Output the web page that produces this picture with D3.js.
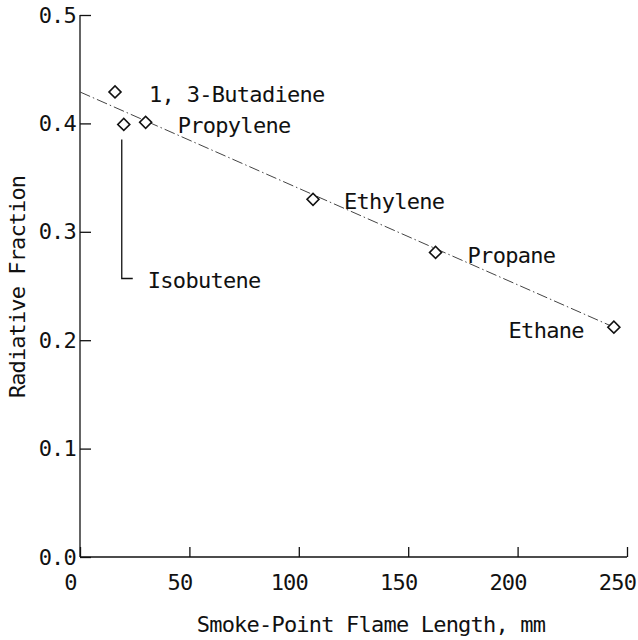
<!DOCTYPE html>
<html>
<head>
<meta charset="utf-8">
<script src="https://cdn.jsdelivr.net/npm/d3@7"></script>
<style>
  body { margin: 0; background: #fff; }
  text { font-family: "DejaVu Sans Mono", monospace; fill: #111; }
  .axis path, .axis line { stroke: #111; stroke-width: 1.3; }
</style>
</head>
<body>
<div id="chart"></div>
<script>
// data
var fuels = ["1, 3-Butadiene", "Isobutene", "Propylene", "Ethylene", "Propane", "Ethane"];
var flameLength = [16, 20, 30, 106.5, 162.5, 244];
var radFraction = [0.429, 0.399, 0.401, 0.330, 0.281, 0.212];
var fitX = [0, 244];
var fitY = [0.429, 0.212];
var xTicks = [0, 50, 100, 150, 200, 250];
var yTicks = [0, 0.1, 0.2, 0.3, 0.4, 0.5];

// label offsets in px from each point (dx, dy, anchor)
var labelPos = [
	[34, 10, "start"],
	[24, 164, "start"],
	[32, 11, "start"],
	[31, 10, "start"],
	[32, 11, "start"],
	[-30, 11, "end"]
];

var W = 638, H = 640;
var svg = d3.select("#chart").append("svg")
	.attr("width", W)
	.attr("height", H);

var x = d3.scaleLinear().domain([0, 250]).range([80, 627]);
var y = d3.scaleLinear().domain([0, 0.5]).range([557, 15]);

// y axis, ticks pointing inside
var yAxis = svg.append("g")
	.attr("class", "axis")
	.attr("transform", "translate(" + x(0) + ",0)")
	.call(d3.axisLeft(y).tickValues(yTicks).tickFormat(d3.format(".1f"))
		.tickSizeInner(-11).tickSizeOuter(0).tickPadding(4));
yAxis.selectAll("text").style("font-size", "22px").attr("letter-spacing", "-0.8");

// x axis
var xAxis = svg.append("g")
	.attr("class", "axis")
	.attr("transform", "translate(0," + y(0) + ")")
	.call(d3.axisBottom(x).tickValues(xTicks).tickFormat(d3.format("d"))
		.tickSizeInner(-10).tickSizeOuter(0).tickPadding(17));
xAxis.selectAll("text").style("font-size", "22px").attr("letter-spacing", "-0.8").attr("dx", -10);
xAxis.select(".domain").remove();
yAxis.select(".domain").remove();
svg.append("line").attr("x1", x(0)).attr("x2", x(250)).attr("y1", y(0)).attr("y2", y(0))
	.attr("stroke", "#111").attr("stroke-width", 1.3);
svg.append("line").attr("x1", x(0)).attr("x2", x(0)).attr("y1", y(0)).attr("y2", y(0.5))
	.attr("stroke", "#111").attr("stroke-width", 1.3);

// dash-dot fit line
var line = d3.line().x(function(d) { return x(d[0]); }).y(function(d) { return y(d[1]); });
svg.append("path")
	.datum(d3.zip(fitX, fitY))
	.attr("d", line)
	.attr("fill", "none")
	.attr("stroke", "#444")
	.attr("stroke-width", 1)
	.attr("stroke-dasharray", "11,3,1.5,3");

// diamonds
var pts = d3.range(fuels.length).map(function(i) {
	return {name: fuels[i], fx: flameLength[i], fy: radFraction[i], lab: labelPos[i]};
});
var sym = d3.symbol().type(d3.symbolSquare).size(72);
svg.selectAll(".pt")
	.data(pts)
	.enter().append("path")
	.attr("class", "pt")
	.attr("d", sym)
	.attr("transform", function(d) { return "translate(" + x(d.fx) + "," + y(d.fy) + ") rotate(45)"; })
	.attr("fill", "#fff")
	.attr("stroke", "#111")
	.attr("stroke-width", 1.6);

// labels
svg.selectAll(".lab")
	.data(pts)
	.enter().append("text")
	.attr("class", "lab")
	.attr("x", function(d) { return x(d.fx) + d.lab[0]; })
	.attr("y", function(d) { return y(d.fy) + d.lab[1]; })
	.attr("text-anchor", function(d) { return d.lab[2]; })
	.attr("letter-spacing", "-0.7")
	.style("font-size", "22px")
	.text(function(d) { return d.name; });

// leader for Isobutene
var iso = pts[1];
var ix = x(iso.fx), iy = y(iso.fy);
svg.append("path")
	.attr("d", "M" + (ix - 2) + "," + (iy + 15) + "V" + (iy + 154) + "H" + (ix + 9))
	.attr("fill", "none")
	.attr("stroke", "#111")
	.attr("stroke-width", 1.3);

// axis titles
svg.append("text")
	.attr("x", 371).attr("y", 632)
	.attr("text-anchor", "middle")
	.attr("letter-spacing", "-0.8")
	.style("font-size", "22px")
	.text("Smoke-Point Flame Length, mm");

svg.append("text")
	.attr("transform", "translate(25,287) rotate(-90)")
	.attr("text-anchor", "middle")
	.attr("letter-spacing", "-0.9")
	.style("font-size", "22px")
	.text("Radiative Fraction");
</script>
</body>
</html>
